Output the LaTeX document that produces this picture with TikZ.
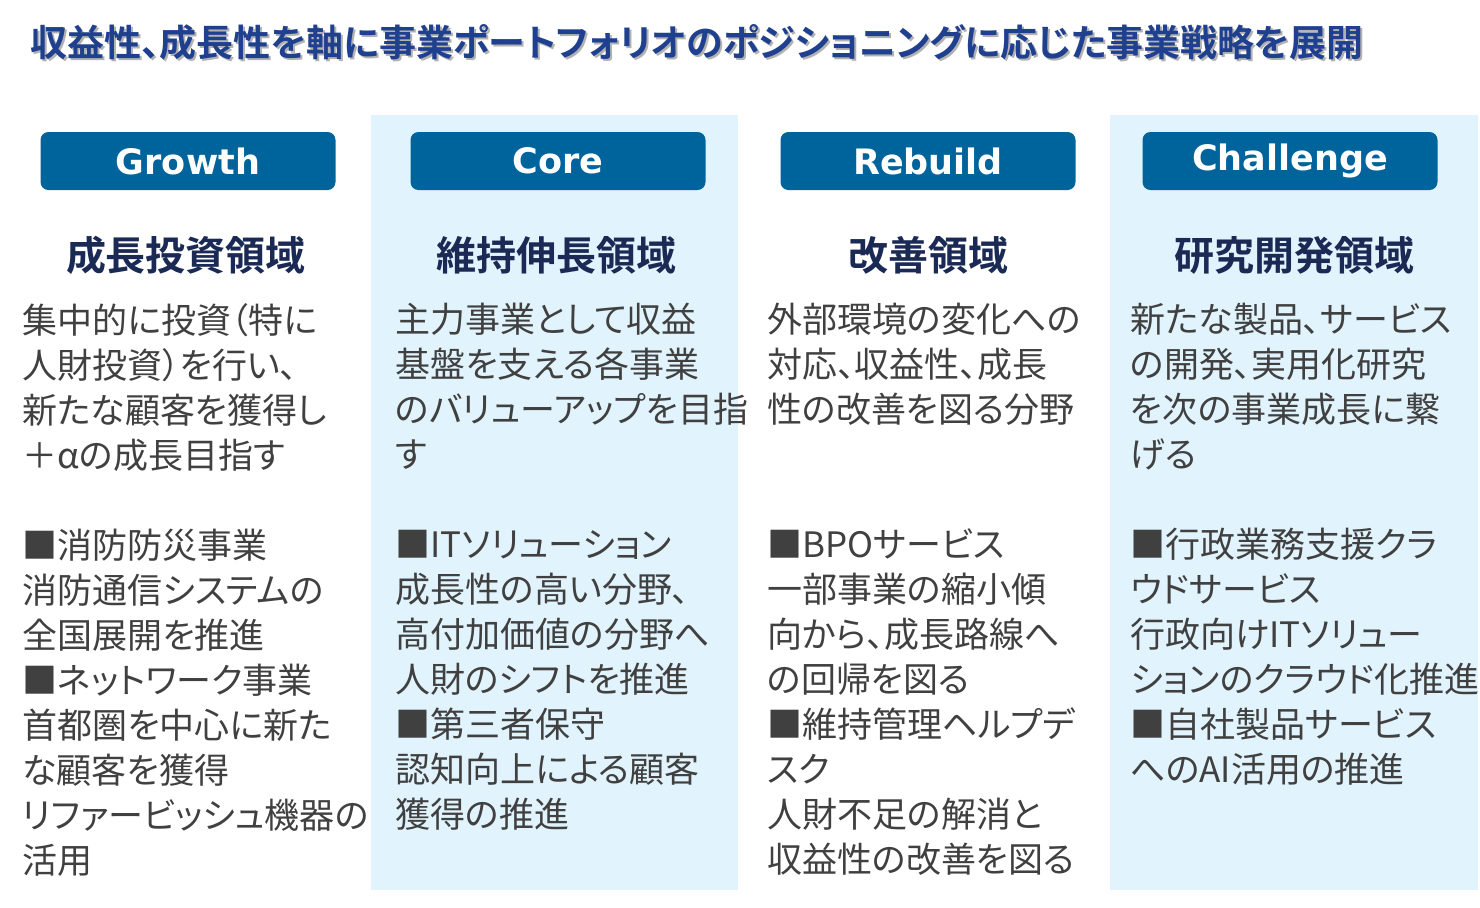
\documentclass[tikz,border=0pt]{standalone}
\usepackage{fontspec}
\newfontfamily\jpfont[RawFeature={+palt}]{Noto Sans CJK JP}
\newfontfamily\jpbold[RawFeature={+palt}]{Noto Sans CJK JP Bold}
\newfontfamily\headfont{DejaVu Sans Bold}
\usetikzlibrary{positioning}
\definecolor{titleblue}{HTML}{1F3F8F}
\definecolor{headblue}{HTML}{00649C}
\definecolor{subnavy}{HTML}{1B2A55}
\definecolor{bodygray}{HTML}{404040}
\definecolor{colbg}{HTML}{E1F3FC}
\tikzset{
  headbox/.style={fill=headblue,rounded corners=4pt,minimum width=147.5pt,minimum height=29pt,
    text=white,font=\headfont\fontsize{17.5}{20}\selectfont},
  subhead/.style={text=subnavy,font=\jpbold\fontsize{20}{24}\selectfont},
  bodytext/.style={anchor=north west,inner sep=0pt,align=left,text=bodygray,
    font=\jpfont\fontsize{17.5}{22.5}\selectfont}
}
\begin{document}
\begin{tikzpicture}[x=0.5pt,y=-0.5pt]
\useasboundingbox (0,0) rectangle (1480,907);
% background of columns 2 and 4
\fill[colbg] (371,115) rectangle (738,890);
\fill[colbg] (1110,115) rectangle (1478,890);
% title
\node[anchor=west,inner sep=0pt,text=gray!60,font=\jpbold\fontsize{18.5}{22}\selectfont] at (32,44)
  {収益性、成長性を軸に事業ポートフォリオのポジショニングに応じた事業戦略を展開};
\node[anchor=west,inner sep=0pt,text=titleblue,font=\jpbold\fontsize{18.5}{22}\selectfont] (title) at (30,42)
  {収益性、成長性を軸に事業ポートフォリオのポジショニングに応じた事業戦略を展開};
% header boxes
\node[headbox] (growth) at (188,161) {Growth};
\node[headbox] (core) at (558,161) {Core};
\node[headbox] (rebuild) at (928,161) {Rebuild};
\node[headbox] (challenge) at (1290,161) {Challenge};
% sub headings
\node[subhead] (s1) at (186,255) {成長投資領域};
\node[subhead] (s2) at (556,255) {維持伸長領域};
\node[subhead] (s3) at (928,255) {改善領域};
\node[subhead] (s4) at (1294,255) {研究開発領域};
% bodies
\node[bodytext] (b1) at (22,303) {集中的に投資（特に\\人財投資）を行い、\\新たな顧客を獲得し\\＋αの成長目指す\\\mbox{}\\
  ■消防防災事業\\消防通信システムの\\全国展開を推進\\■ネットワーク事業\\首都圏を中心に新た\\な顧客を獲得\\リファービッシュ機器の\\活用};
\node[bodytext] (b2) at (395,303) {主力事業として収益\\基盤を支える各事業\\のバリューアップを目指\\す\\\mbox{}\\
  ■ITソリューション\\成長性の高い分野、\\高付加価値の分野へ\\人財のシフトを推進\\■第三者保守\\認知向上による顧客\\獲得の推進};
\node[bodytext] (b3) at (767,303) {外部環境の変化への\\対応、収益性、成長\\性の改善を図る分野\\\mbox{}\\\mbox{}\\
  ■BPOサービス\\一部事業の縮小傾\\向から、成長路線へ\\の回帰を図る\\■維持管理ヘルプデ\\スク\\人財不足の解消と\\収益性の改善を図る};
\node[bodytext] (b4) at (1130,303) {新たな製品、サービス\\の開発、実用化研究\\を次の事業成長に繋\\げる\\\mbox{}\\
  ■行政業務支援クラ\\ウドサービス\\行政向けITソリュー\\ションのクラウド化推進\\■自社製品サービス\\へのAI活用の推進};
\end{tikzpicture}
\end{document}
